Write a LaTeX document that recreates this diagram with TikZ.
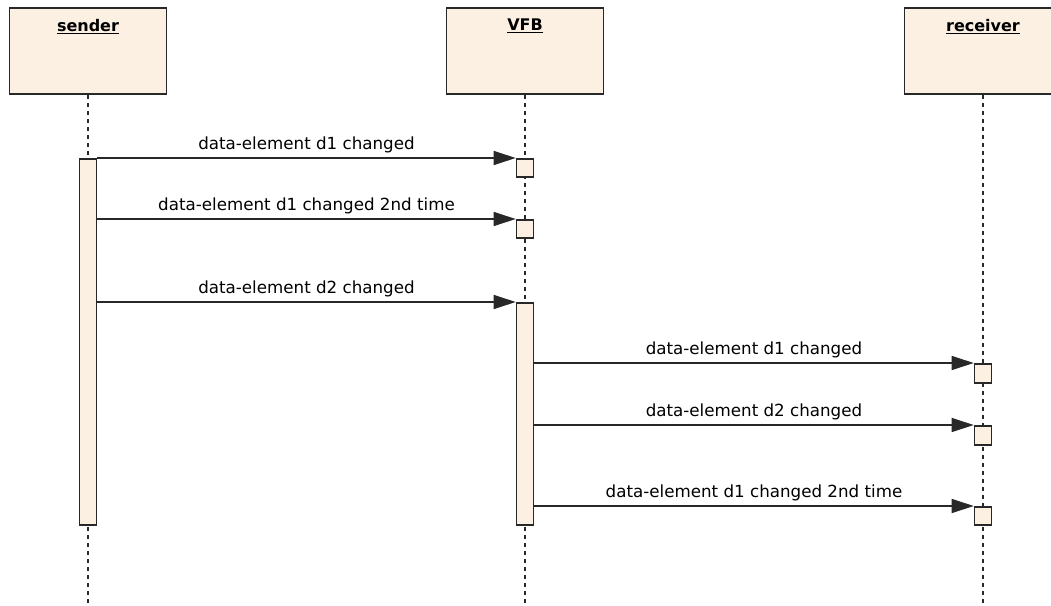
\documentclass[tikz,border=0pt]{standalone}
\usepackage{fontspec}
\setmainfont{DejaVu Sans}
\usetikzlibrary{positioning, arrows.meta}
\definecolor{lifefill}{RGB}{251,240,226}
\definecolor{lifedraw}{RGB}{40,40,40}
\tikzset{
head/.style={draw=lifedraw, line width=1.6pt, fill=lifefill, minimum width=157pt, minimum height=86pt, inner sep=0pt}, % the boxes on top of each lifeline
act/.style={draw=lifedraw, line width=1.6pt, fill=lifefill, minimum width=17pt, inner sep=0pt, anchor=north}, % activation bars and small boxes
lifeline/.style={draw=lifedraw, line width=1.5pt, dash pattern=on 4.5pt off 3.5pt}, % dashed lifelines
msg/.style={-{Triangle[length=22pt, width=14pt]}, draw=lifedraw, line width=1.4pt}, % message arrows
lbl/.style={above=1pt, font=\fontsize{16.7}{20}\selectfont}, % message texts
title/.style={anchor=north, yshift=-8.5pt, font=\bfseries\fontsize{16}{19}\selectfont}, % names in the heads
}

\begin{document}
\begin{tikzpicture}[x=1pt, y=-1pt]
    \useasboundingbox (0,0) rectangle (1051,605);
    \node[head, label={[title]north:\underline{sender}}] (sender) at (88,51) {};
    \node[head, label={[title]north:\underline{VFB}}] (vfb) at (525,51) {};
    \node[head, label={[title]north:\underline{receiver}}] (receiver) at (983,51) {};
    \draw[lifeline] (sender.south) -- (sender.south |- 0,605);
    \draw[lifeline] (vfb.south) -- (vfb.south |- 0,605);
    \draw[lifeline] (receiver.south) -- (receiver.south |- 0,605);
    % activations
    \node[act, minimum height=366pt] (senderAct) at (88,158) {};
    \node[act, minimum height=18pt] (vfbD1) at (525,158) {};
    \node[act, minimum height=18pt] (vfbD1b) at (525,219) {};
    \node[act, minimum height=222pt] (vfbAct) at (525,302) {};
    \node[act, minimum height=19pt] (recvD1) at (983,363) {};
    \node[act, minimum height=19pt] (recvD2) at (983,425) {};
    \node[act, minimum height=18pt] (recvD1b) at (983,506) {};
    % messages
    \draw[msg] (senderAct.east |- vfbD1.north west) -- node[lbl]{data-element d1 changed} (vfbD1.north west);
    \draw[msg] (senderAct.east |- vfbD1b.north west) -- node[lbl]{data-element d1 changed 2nd time} (vfbD1b.north west);
    \draw[msg] (senderAct.east |- vfbAct.north west) -- node[lbl]{data-element d2 changed} (vfbAct.north west);
    \draw[msg] (vfbAct.east |- recvD1.north west) -- node[lbl]{data-element d1 changed} (recvD1.north west);
    \draw[msg] (vfbAct.east |- recvD2.north west) -- node[lbl]{data-element d2 changed} (recvD2.north west);
    \draw[msg] (vfbAct.east |- recvD1b.north west) -- node[lbl]{data-element d1 changed 2nd time} (recvD1b.north west);
\end{tikzpicture}
\end{document}
